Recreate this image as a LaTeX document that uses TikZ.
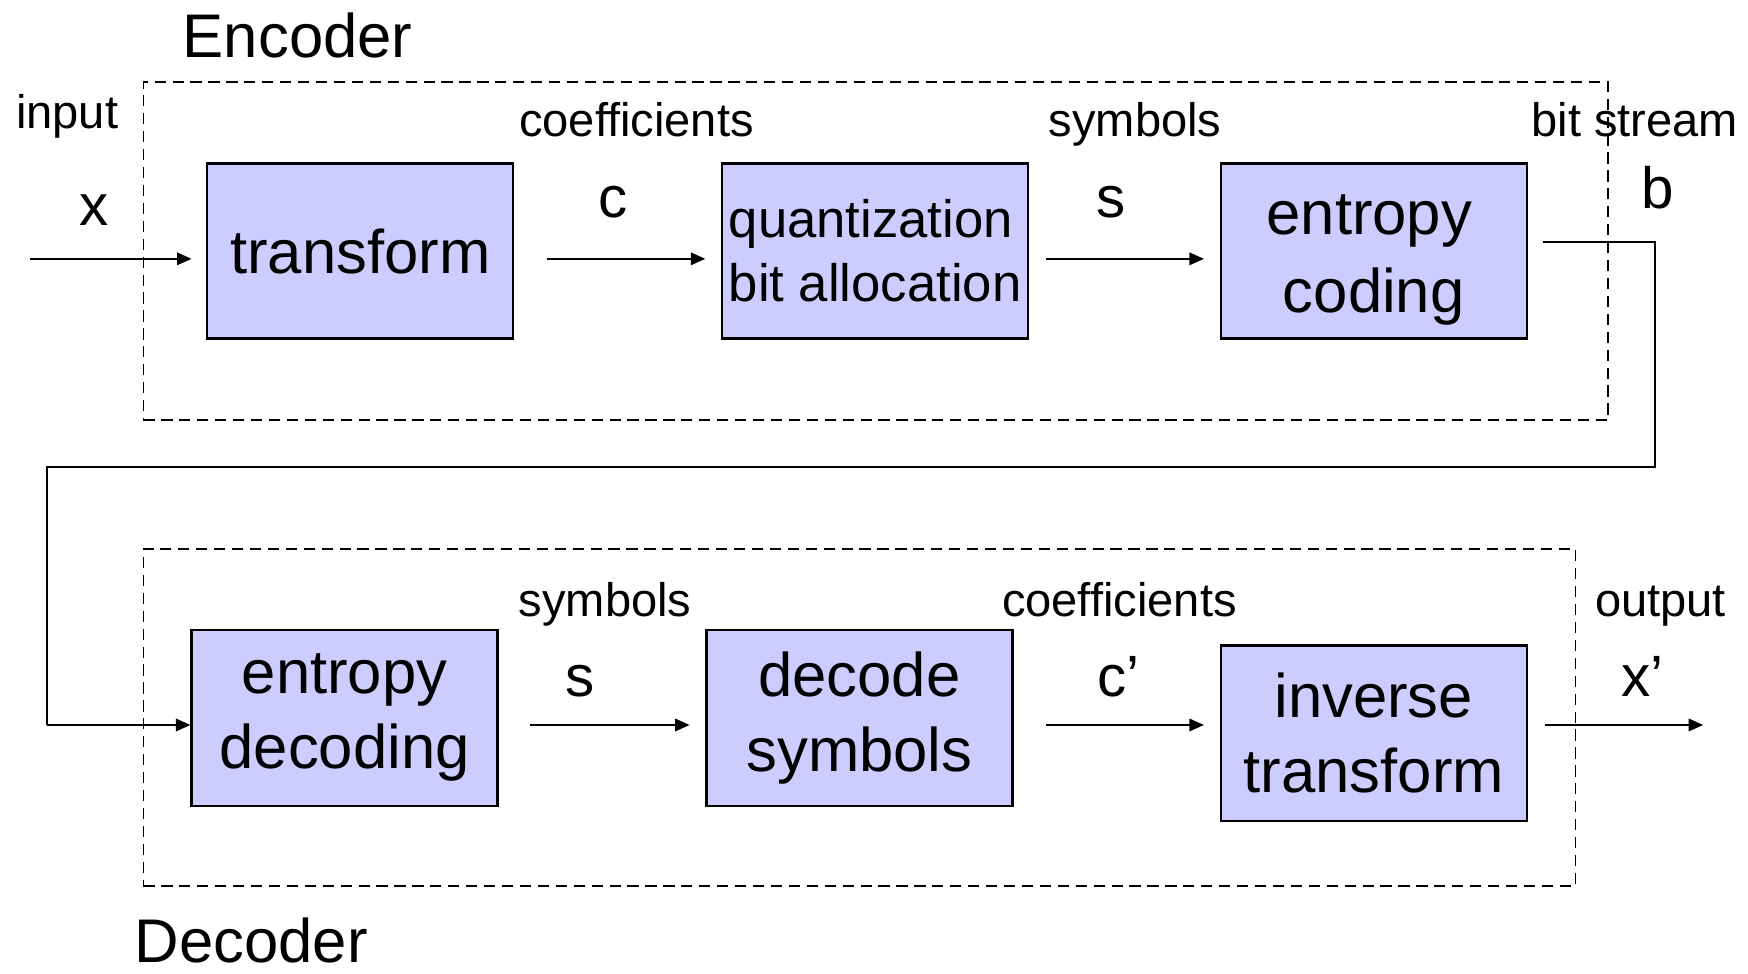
\documentclass[tikz,border=0pt]{standalone}
\usepackage{fontspec}
\setmainfont{Liberation Sans}
\usetikzlibrary{arrows.meta}
\definecolor{boxfill}{HTML}{CCCCFF}
\begin{document}
\begin{tikzpicture}[x=1pt,y=-1pt,
  blk/.style={draw=black, line width=2pt, fill=boxfill, minimum width=273pt, minimum height=156pt, inner sep=0pt, align=center, font=\fontsize{55}{67}\selectfont},
  frame/.style={draw=black, line width=1.6pt, dash pattern=on 10pt off 6pt, inner sep=0pt},
  lbl/.style={anchor=base, inner sep=0pt, font=\fontsize{42}{50}\selectfont},
  sym/.style={anchor=base, inner sep=0pt, font=\fontsize{52}{60}\selectfont},
  title/.style={anchor=base west, inner sep=0pt, font=\fontsize{55}{66}\selectfont},
  arr/.style={line width=2pt, -{Triangle[length=13pt,width=11pt]}},
  wire/.style={line width=2pt}
]
\useasboundingbox (0,0) rectangle (1560,868.4);

% frames
\node (enc) [frame, minimum width=1307pt, minimum height=302pt] at (781.5,224) {};
\node (dec) [frame, minimum width=1278pt, minimum height=301pt] at (767,640.5) {};

% blocks
\node (tr)  [blk] at (321.5,224) {transform};
\node (qu)  [blk, align=left, font=\fontsize{47}{57}\selectfont] at (781,224) {quantization\\bit allocation};
\node (ec)  [blk] at (1226,224) {};
\node (ect) [inner sep=0pt, align=center, font=\fontsize{55}{69}\selectfont] at (1222,232) {entropy\\\hspace*{8pt}coding};
\node (ed)  [blk, minimum height=157pt] at (307.5,640.5) {entropy\\decoding};
\node (ds)  [blk, minimum height=157pt] at (767,640.5) {decode\\symbols};
\node (it)  [blk, minimum height=157pt] at (1226,654.5) {inverse\\transform};

% titles
\node (enct) [title] at (163,51) {Encoder};
\node (dect) [title] at (120,859) {Decoder};

% labels
\node (lin)  [lbl] at (60,115) {input};
\node (lx)   [sym] at (84,201) {x};
\node (lco)  [lbl] at (568,122) {coefficients};
\node (lc)   [sym] at (547,194) {c};
\node (lsy)  [lbl] at (1013,122) {symbols};
\node (ls)   [sym] at (992,194) {s};
\node (lbs)  [lbl] at (1459,122) {bit stream};
\node (lb)   [sym] at (1479,186) {b};
\node (lsy2) [lbl] at (540,550) {symbols};
\node (ls2)  [sym] at (518,622) {s};
\node (lco2) [lbl] at (999,550) {coefficients};
\node (lc2)  [sym] at (998,622) {c’};
\node (lout) [lbl] at (1482,550) {output};
\node (lx2)  [sym] at (1466,622) {x’};

% coordinates
\coordinate (rowA) at (0,231);
\coordinate (rowB) at (0,647);
\coordinate (inp) at (27,231);
\coordinate (outp) at (1520,647);
\coordinate (bs0) at (1377,216);
\coordinate (bs1) at (1477,216);
\coordinate (bs2) at (1477,417);
\coordinate (bs3) at (42,417);
\coordinate (bs4) at (42,647);

% connectors
\draw[arr, shorten >=13pt] (inp) -- (tr.west |- rowA);
\draw[arr, shorten <=29pt, shorten >=14pt] (tr.east |- rowA) -- (qu.west |- rowA);
\draw[arr, shorten <=15pt, shorten >=14pt] (qu.east |- rowA) -- (ec.west |- rowA);
\draw[wire] (bs0) -- (bs1) -- (bs2) -- (bs3) -- (bs4);
\draw[arr] (bs4) -- (ed.west |- rowB);
\draw[arr, shorten <=28pt, shorten >=14pt] (ed.east |- rowB) -- (ds.west |- rowB);
\draw[arr, shorten <=29pt, shorten >=14pt] (ds.east |- rowB) -- (it.west |- rowB);
\draw[arr, shorten <=15pt] (it.east |- rowB) -- (outp);
\end{tikzpicture}
\end{document}
